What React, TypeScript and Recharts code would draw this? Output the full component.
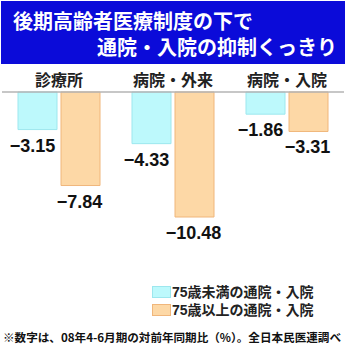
import React from 'react';
import { BarChart, Bar, XAxis, YAxis, ReferenceLine, LabelList, Legend } from 'recharts';

const categories = ['診療所', '病院・外来', '病院・入院'];
const under75 = [-3.15, -4.33, -1.86];
const over75 = [-7.84, -10.48, -3.31];
const seriesNames = ['75歳未満の通院・入院', '75歳以上の通院・入院'];

const data = categories.map((name, i) => ({ name, under: under75[i], over: over75[i] }));

const CYAN = '#bdf9fc';
const CYAN_EDGE = '#9de7ee';
const ORANGE = '#fdd8a6';
const ORANGE_EDGE = '#f0b67b';

const fmt = (v: number) => (v < 0 ? '\u2212' : '') + Math.abs(v).toFixed(2);

const makeLabel = (dx: number) => (props: any) => {
  const { x, y, width, height, value } = props;
  const bottom = Math.max(y, y + height);
  return (
    <text
      x={x + width / 2 + dx}
      y={bottom + 16}
      textAnchor="middle"
      dominantBaseline="central"
      fill="#111"
      fontSize={18}
      fontWeight={700}
      fontFamily="'Liberation Sans', Arial, sans-serif"
    >
      {fmt(value)}
    </text>
  );
};

const CategoryTick = (props: any) => {
  const { x, payload } = props;
  return (
    <text
      x={x}
      y={79}
      textAnchor="middle"
      dominantBaseline="central"
      fill="#222"
      fontSize={16}
      fontWeight={700}
      fontFamily="'Noto Sans CJK JP', sans-serif"
    >
      {payload.value}
    </text>
  );
};

const LegendBox = () => (
  <div style={{ fontFamily: "'Liberation Sans', 'Noto Sans CJK JP', sans-serif", fontSize: 14, fontWeight: 700, color: '#222' }}>
    {seriesNames.map((n, i) => (
      <div key={n} style={{ display: 'flex', alignItems: 'center', height: 18 }}>
        <span
          style={{
            display: 'inline-block',
            width: 19,
            height: 12,
            background: i === 0 ? CYAN : ORANGE,
            border: `1px solid ${i === 0 ? CYAN_EDGE : ORANGE_EDGE}`,
            boxSizing: 'border-box',
            marginRight: 1,
          }}
        />
        <span style={{ lineHeight: '16px', whiteSpace: 'nowrap' }}>{n}</span>
      </div>
    ))}
  </div>
);

export default function App() {
  return (
    <div style={{ position: 'absolute', left: 0, top: 0, width: 346, height: 346, background: '#fff', overflow: 'hidden' }}>
      <div
        style={{
          position: 'absolute',
          left: 1,
          top: 1,
          width: 344,
          height: 63,
          background: '#0b0bd9',
          color: '#fff',
          fontFamily: "'Noto Sans CJK JP', sans-serif",
          fontWeight: 700,
          fontSize: 20,
          lineHeight: '26px',
        }}
      >
        <div style={{ position: 'absolute', left: 12, top: 7, whiteSpace: 'nowrap' }}>後期高齢者医療制度の下で</div>
        <div style={{ position: 'absolute', left: 96, top: 33, whiteSpace: 'nowrap' }}>通院・入院の抑制くっきり</div>
      </div>

      <BarChart
        width={346}
        height={346}
        data={data}
        margin={{ top: 62, right: 2, bottom: 51, left: 2 }}
        barSize={39}
        barGap={4}
      >
        <XAxis dataKey="name" orientation="top" height={30} axisLine={false} tickLine={false} tick={<CategoryTick />} interval={0} />
        <YAxis hide domain={[-14, 0]} />
        <Bar dataKey="under" name={seriesNames[0]} fill={CYAN} stroke={CYAN_EDGE} strokeWidth={1} isAnimationActive={false}>
          <LabelList dataKey="under" content={makeLabel(-5)} />
        </Bar>
        <Bar dataKey="over" name={seriesNames[1]} fill={ORANGE} stroke={ORANGE_EDGE} strokeWidth={1} isAnimationActive={false}>
          <LabelList dataKey="over" content={makeLabel(-1)} />
        </Bar>
        <ReferenceLine y={0} stroke="#b5b5b5" strokeWidth={1.5} />
        <Legend
          content={<LegendBox />}
          wrapperStyle={{ position: 'absolute', left: 152, top: 283, width: 190, bottom: 'auto' }}
        />
      </BarChart>

      <svg style={{ position: 'absolute', left: 0, top: 322 }} width={346} height={24}>
        <text
          x={3}
          y={15}
          dominantBaseline="central"
          fontSize={11.5}
          fontWeight={700}
          fill="#111"
          textLength={338}
          lengthAdjust="spacingAndGlyphs"
          fontFamily="'Noto Sans CJK JP', sans-serif"
        >
          ※数字は、08年4-6月期の対前年同期比（%）。全日本民医連調べ
        </text>
      </svg>
    </div>
  );
}
